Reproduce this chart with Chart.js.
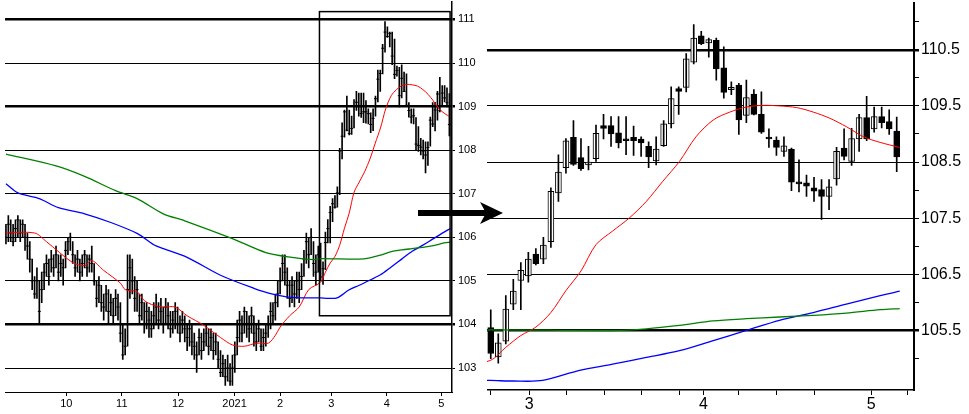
<!DOCTYPE html>
<html>
<head>
<meta charset="utf-8">
<script src="https://cdn.jsdelivr.net/npm/chart.js@4.4.1/dist/chart.umd.min.js"></script>
<style>
  html, body { margin: 0; padding: 0; background: #fff; }
  #wrap { position: relative; width: 969px; height: 414px; overflow: hidden; }
  canvas { position: absolute; }
  #left { left: 0; top: -8px; }
  #right { left: 487px; top: -9px; }
  #arrow { position: absolute; left: 0; top: 0; }
</style>
</head>
<body>
<div id="wrap">
  <canvas id="left" width="485" height="422"></canvas>
  <canvas id="right" width="482" height="423"></canvas>
  <svg id="arrow" width="969" height="414">
    <rect x="418" y="210" width="68" height="6" fill="#000"></rect>
    <polygon points="480,202 503,213 480,224 486,213" fill="#000"></polygon>
  </svg>
</div>
<script>
// older bars (left panel only): close, high, low
const oldClose = [106.0,106.3,106.1,105.9,106.2,106.4,106.1,106.3,106.0,105.8,
  105.5,105.0,104.7,105.0,104.3,104.8,105.2,105.4,105.1,105.5,
  105.3,105.6,105.2,105.4,105.3,105.7,105.9,106.0,105.6,105.3,
  105.5,105.2,105.4,105.6,105.3,105.5,105.4,105.0,104.6,104.9,
  104.5,104.4,104.7,104.3,104.5,104.2,104.6,104.4,103.8,103.3,
  103.5,104.8,105.3,105.0,104.6,104.8,104.2,104.5,104.0,104.3,
  104.1,103.9,104.2,104.4,104.1,104.3,104.0,104.4,104.2,103.9,
  104.1,104.3,104.0,103.8,104.1,103.9,103.7,103.9,103.6,103.5,
  103.3,103.7,103.4,103.6,103.8,103.5,103.7,103.4,103.6,103.2,
  102.9,103.1,102.8,103.0,102.7,103.0,103.3,103.7,104.1,103.8,
  104.3,104.0,103.9,104.2,103.8,103.6,103.9,103.5,103.7,103.8,
  104.0,104.3,104.2,104.5,104.7,105.0,105.4,105.2,104.9,104.6,
  104.9,104.7,105.0,104.8,105.1,105.5,105.9,105.6,106.0,105.4,
  105.2,105.6];
const oldHigh = [106.3,106.5,106.4,106.3,106.4,106.5,106.4,106.4,106.3,106.1,
  105.9,105.5,105.1,105.3,105.0,105.2,105.4,105.6,105.5,105.7,
  105.6,105.8,105.6,105.6,105.5,105.9,106.0,106.1,105.9,105.6,
  105.7,105.5,105.6,105.7,105.6,105.6,105.8,105.4,105.0,105.1,
  104.9,104.7,104.9,104.8,104.7,104.6,104.8,104.7,104.5,104.0,
  103.9,105.6,105.6,105.5,105.1,105.0,104.7,104.7,104.5,104.5,
  104.4,104.3,104.5,104.7,104.5,104.6,104.4,104.6,104.5,104.3,
  104.3,104.5,104.4,104.2,104.3,104.2,104.0,104.1,104.0,103.8,
  103.6,103.9,103.8,103.9,104.0,103.9,103.9,103.8,103.8,103.6,
  103.4,103.3,103.2,103.3,103.1,103.3,103.6,104.1,104.3,104.2,
  104.4,104.3,104.2,104.4,104.2,104.0,104.1,103.9,103.9,104.0,
  104.2,104.5,104.5,104.7,105.0,105.3,105.6,105.6,105.3,105.0,
  105.1,105.0,105.2,105.2,105.4,105.7,106.1,106.0,106.2,105.9,
  105.6,105.8];
const oldLow = [105.85,105.9,105.9,105.8,105.9,106.0,105.9,106.0,105.7,105.5,
  105.2,104.8,104.6,104.6,104.0,104.5,104.8,105.1,104.9,105.2,
  105.1,105.3,105.0,105.1,104.9,105.3,105.6,105.7,105.4,105.1,
  105.2,105.0,105.1,105.3,105.1,105.2,105.2,104.9,104.4,104.5,
  104.3,104.1,104.3,104.0,104.2,104.0,104.2,104.1,103.6,103.2,
  103.3,103.5,104.6,104.7,104.3,104.3,104.0,104.1,103.8,103.9,
  103.7,103.7,103.9,104.0,103.9,104.0,103.8,104.0,103.9,103.7,
  103.8,103.9,103.8,103.6,103.8,103.6,103.4,103.5,103.3,103.2,
  102.9,103.3,103.2,103.4,103.5,103.3,103.4,103.2,103.3,103.0,
  102.8,102.8,102.6,102.7,102.6,102.6,102.9,103.3,103.6,103.6,
  103.8,103.7,103.6,103.8,103.5,103.4,103.6,103.4,103.4,103.5,
  103.7,103.9,104.0,104.1,104.4,104.7,105.0,104.9,104.6,104.4,
  104.5,104.4,104.6,104.5,104.8,105.1,105.4,105.3,105.6,105.1,
  104.9,105.2];

// recent bars (both panels): open, high, low, close
const recOpen = [105.55,105.03,105.31,105.97,106.39,106.47,106.86,106.77,107.08,107.95,
  108.40,108.94,108.58,108.45,108.56,109.15,109.15,109.02,108.91,108.94,
  108.91,108.78,108.52,108.79,109.18,109.81,109.83,110.28,110.75,110.62,
  110.67,110.18,109.79,109.87,109.33,109.71,109.35,108.94,108.89,108.69,
  108.73,108.13,108.13,108.04,108.01,107.89,108.20,108.75,108.51,108.91,
  109.29,109.09,109.31,109.22,109.05];
const recHigh = [105.87,105.44,106.12,106.41,106.71,106.89,106.96,107.16,108.04,108.63,
  108.92,109.24,108.92,108.78,109.16,109.35,109.31,109.31,109.31,109.14,
  108.95,108.86,108.95,109.24,109.84,109.84,110.43,110.95,110.83,110.71,
  110.71,110.55,109.93,109.90,109.96,109.79,109.75,109.09,108.95,108.95,
  108.75,108.54,108.27,108.23,108.19,108.19,108.76,109.09,109.10,109.35,
  109.67,109.48,109.48,109.43,109.30];
const recLow = [105.00,104.92,105.26,105.87,105.87,106.36,106.67,106.69,106.98,107.80,
  108.30,108.44,108.35,108.36,108.51,108.91,108.78,108.75,108.63,108.62,
  108.60,108.40,108.45,108.78,109.11,109.35,109.75,110.25,110.59,110.37,
  109.96,109.64,109.70,108.99,109.20,109.34,109.01,108.76,108.62,108.60,
  107.99,107.97,107.89,107.80,107.48,107.65,108.09,108.54,108.44,108.69,
  108.88,109.03,109.11,108.99,108.33];
const recClose = [105.09,105.28,105.88,106.20,106.57,106.77,106.69,107.02,107.98,108.32,
  108.88,108.46,108.38,108.50,109.01,109.10,109.00,108.84,108.88,108.88,
  108.84,108.59,108.73,109.18,109.63,109.76,110.34,110.71,110.61,110.68,
  110.16,109.74,109.83,109.25,109.65,109.35,109.03,108.91,108.76,108.79,
  108.14,108.11,108.07,107.98,107.89,108.06,108.69,108.60,108.92,109.29,
  108.91,109.31,109.20,109.09,108.59];
const recStart = 132;

// moving averages: bar index / value
const redX = [0,12,17,28,33,36,41,48,50,55,58,62,66,71,76,83,90,95,100,105,110,113,115,119,123,127,
  132,134,136,138,140,142,144,146,148.2,150.4,152.7,154.9,157.1,159.3,161.6,163.8,166,168.2,170.4,172.7,174.9,177.1,179.3,181.6,183.8,186.4];
const redY = [106.1,106.1,105.9,105.42,105.35,105.47,105.24,104.95,104.8,104.75,104.55,104.44,104.4,104.4,104.2,103.98,103.7,103.53,103.5,103.57,103.57,103.75,103.94,104.2,104.4,104.8,
  104.97,105.2,105.41,105.56,105.82,106.21,106.56,107.03,107.27,107.5,107.8,108.16,108.51,108.95,109.25,109.39,109.48,109.51,109.5,109.47,109.39,109.28,109.13,108.95,108.85,108.76];
const blueX = [0,5,14,22,33,44,55,62,66,76,90,104,111,120,132,134.9,138.9,143.8,148.2,152.7,157.1,161.6,166,170.4,174.9,179.3,183.8,186.4];
const blueY = [107.23,107.02,106.89,106.68,106.54,106.34,106.09,105.83,105.74,105.54,105.13,104.83,104.71,104.62,104.61,104.6,104.61,104.79,104.9,105.02,105.14,105.32,105.5,105.68,105.82,105.97,106.12,106.2];
const greenX = [0,21,33,46,55,66,75,95,109,120,129,132,148.2,152.7,157.1,161.6,166,170.4,174.9,179.3,183.8,186.4];
const greenY = [107.91,107.64,107.4,107.07,106.89,106.54,106.38,105.97,105.65,105.54,105.49,105.51,105.5,105.53,105.59,105.67,105.71,105.74,105.77,105.81,105.87,105.89];

// axis ticks
const leftMonthAt = [25.3,48.6,72.2,95.9,115,136.5,159.8,182.6];
const leftMonthLabels = ['10','11','12','2021','2','3','4','5'];
const leftPriceTicks = [103,104,105,106,107,108,109,110,111];
const leftThick = [104,109,111];
const rightMonthAt = [137.1,160.3,182.6];
const rightMonthLabels = ['3','4','5'];
const rightWeekAt = [132,142.1,147.1,152.1,157.1,165,170,175,187.5];
const rightPriceTicks = [105,105.5,106,106.5,107,107.5,108,108.5,109,109.5,110,110.5,111];
const rightThick = [105.5,110.5];

Chart.defaults.font.family = '"Liberation Sans", Arial, sans-serif';
Chart.defaults.color = '#000';
Chart.defaults.animation = false;

const hl = [], closes = [];
oldClose.forEach((c, i) => { hl.push({ x: i, y: [oldLow[i], oldHigh[i]] }); closes.push({ x: i, y: c }); });
recClose.forEach((c, j) => { hl.push({ x: recStart + j, y: [recLow[j], recHigh[j]] }); closes.push({ x: recStart + j, y: c }); });

function pairs(xs, ys) { return xs.map((x, i) => ({ x, y: ys[i] })); }
function maSets(w) {
  return [
    { type: 'line', data: pairs(greenX, greenY), borderColor: '#008000', borderWidth: w, pointRadius: 0, tension: 0.3 },
    { type: 'line', data: pairs(blueX, blueY), borderColor: '#0000ff', borderWidth: w, pointRadius: 0, tension: 0.3 },
    { type: 'line', data: pairs(redX, redY), borderColor: '#ff0000', borderWidth: 1, pointRadius: 0, tension: 0.3 }
  ];
}

// zoom box drawn on the left panel
const boxPlugin = {
  id: 'box',
  afterDatasetsDraw(chart) {
    const { ctx, scales: { x, y } } = chart;
    ctx.save();
    ctx.strokeStyle = '#000';
    ctx.lineWidth = 1.5;
    const x0 = x.getPixelForValue(131.5), x1 = x.getPixelForValue(186.3);
    const y0 = y.getPixelForValue(111.18), y1 = y.getPixelForValue(104.2);
    ctx.strokeRect(x0, y0, x1 - x0, y1 - y0);
    ctx.restore();
  }
};

new Chart(document.getElementById('left'), {
  type: 'bar',
  data: {
    datasets: [
      ...maSets(1.3),
      { type: 'bar', data: hl, backgroundColor: '#000', barThickness: 1, grouped: false },
      { type: 'line', data: closes, showLine: false, pointStyle: 'line', pointRadius: 1.5, borderColor: '#000', borderWidth: 1 }
    ]
  },
  options: {
    responsive: false,
    devicePixelRatio: 1,
    layout: { padding: 0 },
    plugins: { legend: { display: false }, tooltip: { enabled: false } },
    scales: {
      x: {
        type: 'linear', min: -0.4, max: 187.1, offset: false,
        afterBuildTicks: s => { s.ticks = leftMonthAt.map(v => ({ value: v })); },
        afterFit: s => { s.height = 22; },
        ticks: { autoSkip: false, maxRotation: 0, padding: 1, font: { size: 11 },
          callback: v => leftMonthLabels[leftMonthAt.indexOf(v)] },
        grid: { drawOnChartArea: false, tickLength: 4, color: '#000', offset: false },
        border: { color: '#000', width: 1 }
      },
      y: {
        position: 'right', min: 102.45, max: 111.41,
        afterBuildTicks: s => { s.ticks = leftPriceTicks.map(v => ({ value: v })); },
        afterFit: s => { s.width = 33; },
        ticks: { padding: 3, font: { size: 11 } },
        grid: { color: '#000', tickLength: 3,
          lineWidth: c => leftThick.includes(c.tick && c.tick.value) ? 2.5 : 1 },
        border: { color: '#000', width: 1.5 }
      }
    }
  },
  plugins: [boxPlugin]
});

const wick = [], body = [], bodyFill = [];
recClose.forEach((c, j) => {
  wick.push({ x: recStart + j, y: [recLow[j], recHigh[j]] });
  body.push({ x: recStart + j, y: [recOpen[j], c] });
  bodyFill.push(c >= recOpen[j] ? '#fff' : '#000');
});

new Chart(document.getElementById('right'), {
  type: 'bar',
  data: {
    datasets: [
      ...maSets(1.3),
      { type: 'bar', data: wick, backgroundColor: '#000', barThickness: 1, grouped: false },
      { type: 'bar', data: body, backgroundColor: bodyFill, borderColor: '#000', borderWidth: 1,
        borderSkipped: false, barThickness: 6, grouped: false, minBarLength: 2 }
    ]
  },
  options: {
    responsive: false,
    devicePixelRatio: 1,
    layout: { padding: 0 },
    plugins: { legend: { display: false }, tooltip: { enabled: false } },
    scales: {
      x: {
        type: 'linear', min: 131.5, max: 188.3, offset: false,
        afterBuildTicks: s => {
          s.ticks = rightWeekAt.concat(rightMonthAt).sort((a, b) => a - b).map(v => ({ value: v }));
        },
        afterFit: s => { s.height = 24; },
        ticks: { autoSkip: false, maxRotation: 0, padding: 0, font: { size: 16 },
          callback: v => { const k = rightMonthAt.indexOf(v); return k < 0 ? '' : rightMonthLabels[k]; } },
        grid: { drawOnChartArea: false, tickLength: 5, color: '#000', offset: false },
        border: { color: '#000', width: 1.5 }
      },
      y: {
        position: 'right', min: 104.44, max: 111.34,
        afterBuildTicks: s => { s.ticks = rightPriceTicks.map(v => ({ value: v })); },
        afterFit: s => { s.width = 55; },
        ticks: { padding: 2, font: { size: 16 },
          callback: v => (Math.round(v * 2) % 2 === 1) ? v.toFixed(1) : '' },
        grid: {
          tickLength: 5, tickColor: '#000',
          color: c => (c.tick && Math.round(c.tick.value * 2) % 2 === 1) ? '#000' : 'rgba(0,0,0,0)',
          lineWidth: c => rightThick.includes(c.tick && c.tick.value) ? 2.5 : 1
        },
        border: { color: '#000', width: 2 }
      }
    }
  }
});
</script>
</body>
</html>
